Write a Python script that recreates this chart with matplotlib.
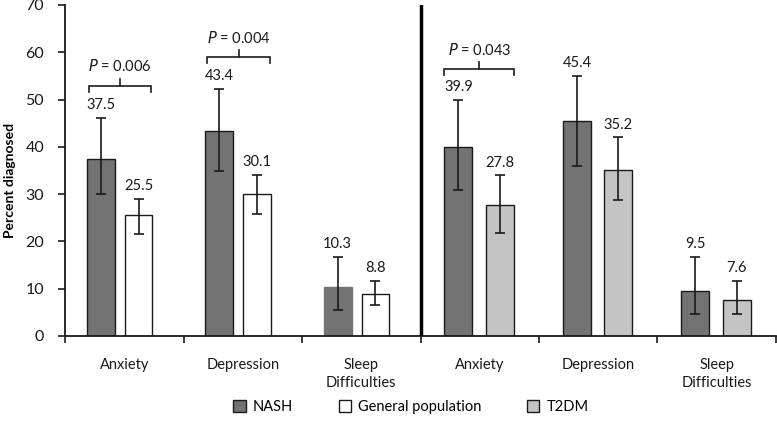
import numpy as np
import matplotlib.pyplot as plt
from matplotlib.patches import Patch

plt.rcParams['font.family'] = ['Lato', 'DejaVu Sans']

categories = ['Anxiety', 'Depression', 'Sleep\nDifficulties']

# NASH vs general population (left panel)
nash_a = [37.5, 43.4, 10.3]
nash_a_lo = [30.0, 34.9, 5.6]
nash_a_hi = [46.1, 52.3, 16.8]
genpop = [25.5, 30.1, 8.8]
genpop_lo = [21.6, 25.8, 6.6]
genpop_hi = [29.0, 34.1, 11.6]

# NASH vs T2DM (right panel)
nash_b = [39.9, 45.4, 9.5]
nash_b_lo = [30.9, 35.9, 4.7]
nash_b_hi = [49.9, 55.0, 16.8]
t2dm = [27.8, 35.2, 7.6]
t2dm_lo = [21.7, 28.8, 4.7]
t2dm_hi = [34.0, 42.0, 11.6]

pvals = ['0.006', '0.004', '0.043']
p_cats = [0, 1, 3]
p_heights = [52.9, 59.0, 56.4]

c_nash = '#737373'
c_gen = '#ffffff'
c_t2 = '#c4c4c4'

fig = plt.figure(figsize=(7.77, 4.26), dpi=100)
ax = fig.add_axes([0.0837, 0.2113, 0.915, 0.777])

w = 0.236
xl = np.arange(3)
xr = np.arange(3) + 3


def draw(x, vals, lo, hi, color, edges):
    vals = np.array(vals)
    err = [vals - np.array(lo), np.array(hi) - vals]
    for i in range(len(x)):
        ax.bar(x[i], vals[i], w, color=color,
               edgecolor='#1a1a1a' if edges[i] else color, linewidth=1.0, zorder=2)
    ax.errorbar(x, vals, yerr=err, fmt='none', ecolor='#1a1a1a',
                elinewidth=1.2, capsize=3.5, capthick=1.2, zorder=3)
    for xi, v, h in zip(x, vals, hi):
        ax.text(xi, h + 1.2, f'{v:.1f}', ha='center', va='bottom', fontsize=10.5,
                color='#1a1a1a')


draw(xl - 0.2, nash_a, nash_a_lo, nash_a_hi, c_nash, [True, True, False])
draw(xl + 0.12, genpop, genpop_lo, genpop_hi, c_gen, [True, True, True])
draw(xr - 0.18, nash_b, nash_b_lo, nash_b_hi, c_nash, [True, True, True])
draw(xr + 0.17, t2dm, t2dm_lo, t2dm_hi, c_t2, [True, True, True])

# significance brackets
for c, p, h in zip(p_cats, pvals, p_heights):
    if c < 3:
        x0, x1 = c - 0.2 - w / 2 + 0.02, c + 0.12 + w / 2 - 0.01
    else:
        x0, x1 = c - 0.18 - w / 2, c + 0.17 + w / 2
    xm = (x0 + x1) / 2
    ax.plot([x0, x0, x1, x1], [h - 1.3, h, h, h - 1.3], color='#1a1a1a', lw=1.2,
            solid_joinstyle='miter', zorder=3)
    ax.plot([xm, xm], [h, h + 1.5], color='#1a1a1a', lw=1.2, zorder=3)
    ax.text(xm, h + 4.1, f'$P$ = {p}', ha='center', va='center', fontsize=10.5,
            color='#1a1a1a')

ax.axvline(2.5, color='black', lw=2.5, zorder=4)

ax.set_xlim(-0.5, 5.5)
ax.set_ylim(0, 70)
ax.set_yticks(np.arange(0, 71, 10))
ax.set_xticks(np.arange(-0.5, 6, 1))
ax.set_xticklabels([])
ax.set_xticks(np.arange(6), minor=True)
ax.set_xticklabels(categories * 2, minor=True, fontsize=10.5, linespacing=1.3)
ax.tick_params(axis='x', which='minor', length=0, pad=16, colors='#1a1a1a')
ax.tick_params(axis='x', which='major', length=5, width=1.2, direction='out', colors='#1a1a1a')
ax.tick_params(axis='y', length=5, width=1.2, labelsize=11.5, pad=10, colors='#1a1a1a')
for lab in ax.get_xticklabels(minor=True):
    lab.set_verticalalignment('top')

for s in ['top', 'right']:
    ax.spines[s].set_visible(False)
ax.spines['left'].set_linewidth(1.3)
ax.spines['bottom'].set_linewidth(1.3)
ax.spines['left'].set_color('#1a1a1a')
ax.spines['bottom'].set_color('#1a1a1a')

ax.set_ylabel('Percent diagnosed', fontsize=10, fontweight='bold', va='center')
ax.yaxis.set_label_coords(-0.077, 0.47)

handles = [Patch(facecolor=c_nash, edgecolor='#1a1a1a', label='NASH'),
           Patch(facecolor=c_gen, edgecolor='#1a1a1a', label='General population'),
           Patch(facecolor=c_t2, edgecolor='#1a1a1a', label='T2DM')]
fig.legend(handles=handles, loc='center', bbox_to_anchor=(0.529, 0.044), ncol=3,
           frameon=False, fontsize=10.5, handlelength=0.85, handleheight=0.85,
           handletextpad=0.5, columnspacing=3.1)

fig.savefig('out.png', dpi=100)
